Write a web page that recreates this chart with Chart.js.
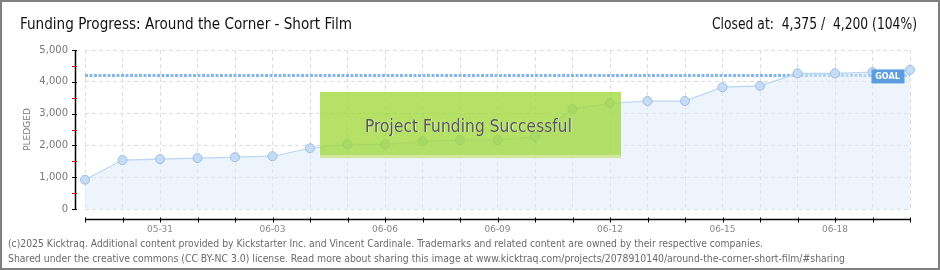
<!DOCTYPE html>
<html>
<head>
<meta charset="utf-8">
<script src="https://cdn.jsdelivr.net/npm/chart.js@4.4.1/dist/chart.umd.min.js"></script>
<style>
  html, body { margin: 0; padding: 0; background: #fff; }
  #wrap { width: 940px; height: 270px; position: relative; }
</style>
</head>
<body>
<div id="wrap"><canvas id="mainChart" width="940" height="270"></canvas></div>
<script>
// ─── data ───
const dates = [
    '05-29', '05-30', '05-31', '06-01', '06-02', '06-03', '06-04', '06-05',
    '06-06', '06-07', '06-08', '06-09', '06-10', '06-11', '06-12', '06-13',
    '06-14', '06-15', '06-16', '06-17', '06-18', '06-19', '06-20'
];
const pledged = [
    920, 1540, 1570, 1600, 1630, 1660, 1910, 2035,
    2035, 2130, 2170, 2170, 2275, 3145, 3325, 3395,
    3395, 3830, 3870, 4265, 4265, 4305, 4375
];
const goal = 4200;
const yTicks = [0, 1000, 2000, 3000, 4000, 5000];

const titleText = 'Funding Progress: Around the Corner - Short Film';
const closedText = 'Closed at:  4,375 /  4,200 (104%)';
const bannerText = 'Project Funding Successful';
const footerLines = [
    '(c)2025 Kicktraq. Additional content provided by Kickstarter Inc. and Vincent Cardinale. Trademarks and related content are owned by their respective companies.',
    'Shared under the creative commons (CC BY-NC 3.0) license. Read more about sharing this image at www.kicktraq.com/projects/2078910140/around-the-corner-short-film/#sharing'
];

const TEXT_FONT = "'DejaVu Sans Condensed', 'Liberation Sans Narrow', sans-serif";

// fit text into a target width (the original uses a narrower face)
function fitText(ctx, text, x, y, width) {
    const w = ctx.measureText(text).width;
    ctx.save();
    ctx.translate(x, y);
    ctx.scale(width / w, 1);
    ctx.fillText(text, 0, 0);
    ctx.restore();
}

// ─── custom drawing: frame, title, axes, goal, banner, footer ───
const decorPlugin = {
    id: 'decor',
    beforeDraw(chart) {
        const { ctx } = chart;
        ctx.save();
        ctx.fillStyle = '#fff';
        ctx.fillRect(0, 0, chart.width, chart.height);
        ctx.restore();
    },
    beforeDatasetsDraw(chart) {
        // goal line under the series
        const { ctx, chartArea } = chart;
        const y = chart.scales.y.getPixelForValue(goal);
        ctx.save();
        ctx.strokeStyle = '#86b5e8';
        ctx.lineWidth = 3;
        ctx.setLineDash([3, 1.5]);
        ctx.beginPath();
        ctx.moveTo(chartArea.left, y);
        ctx.lineTo(chartArea.right, y);
        ctx.stroke();
        ctx.restore();
    },
    afterDraw(chart) {
        const { ctx, chartArea } = chart;
        const xs = chart.scales.x, ys = chart.scales.y;
        ctx.save();

        // axis lines (drawn offset from the plot like the original)
        const axX = chartArea.left - 9.5;
        const axY = chartArea.bottom + 10.5;
        ctx.strokeStyle = '#000';
        ctx.lineWidth = 1.5;
        ctx.beginPath();
        ctx.moveTo(axX, ys.getPixelForValue(5000));
        ctx.lineTo(axX, ys.getPixelForValue(0));
        ctx.stroke();
        for (let v = 0; v <= 5000; v += 500) {
            const py = Math.round(ys.getPixelForValue(v)) + 0.5;
            ctx.strokeStyle = v % 1000 === 0 ? '#000' : '#e00000';
            ctx.lineWidth = 1;
            ctx.beginPath();
            ctx.moveTo(axX - 3.5, py);
            ctx.lineTo(axX + 1.5, py);
            ctx.stroke();
        }
        ctx.strokeStyle = '#000';
        ctx.lineWidth = 1.5;
        ctx.beginPath();
        ctx.moveTo(chartArea.left, axY);
        ctx.lineTo(chartArea.right, axY);
        ctx.stroke();
        ctx.lineWidth = 1;
        dates.forEach((d, i) => {
            const px = Math.round(xs.getPixelForValue(i)) + 0.5;
            ctx.beginPath();
            ctx.moveTo(px, axY - 2);
            ctx.lineTo(px, axY + 3);
            ctx.stroke();
        });

        // GOAL tag
        const gy = ys.getPixelForValue(goal);
        const gx = xs.getPixelForValue(dates.length - 2) - 1;
        ctx.fillStyle = '#5b9de0';
        ctx.fillRect(gx, gy - 6, 33, 14);
        ctx.fillStyle = '#fff';
        ctx.font = "bold 9px 'DejaVu Sans Condensed', sans-serif";
        ctx.textAlign = 'center';
        ctx.textBaseline = 'middle';
        ctx.fillText('GOAL', gx + 16, gy + 1);

        // banner
        const bx = 320, by = 92, bw = 301, bh = 66;
        ctx.fillStyle = 'rgba(160, 216, 60, 0.78)';
        ctx.fillRect(bx, by, bw, bh);
        ctx.fillStyle = 'rgba(210, 232, 160, 0.95)';
        ctx.fillRect(bx, by + bh - 3, bw, 3);
        ctx.font = "18px " + TEXT_FONT;
        ctx.textAlign = 'left';
        ctx.textBaseline = 'middle';
        ctx.fillStyle = 'rgba(255,255,255,0.8)';
        fitText(ctx, bannerText, 365.7, by + 35.7, 207);
        ctx.fillStyle = '#555';
        fitText(ctx, bannerText, 365, by + 35, 207);

        // titles
        ctx.textBaseline = 'alphabetic';
        ctx.fillStyle = '#111';
        ctx.font = "16px " + TEXT_FONT;
        ctx.textAlign = 'left';
        fitText(ctx, titleText, 20, 29, 332);
        fitText(ctx, closedText, 712, 29, 205);

        // footer
        ctx.fillStyle = '#6a6a6a';
        ctx.font = "10px " + TEXT_FONT;
        fitText(ctx, footerLines[0], 8, 247, 755);
        fitText(ctx, footerLines[1], 8, 262, 837);

        // frame
        ctx.strokeStyle = '#808080';
        ctx.lineWidth = 2;
        ctx.strokeRect(1, 1, chart.width - 2, chart.height - 2);
        ctx.restore();
    }
};

const ctx = document.getElementById('mainChart').getContext('2d');
new Chart(ctx, {
    type: 'line',
    data: {
        labels: dates,
        datasets: [{
            data: pledged,
            borderColor: '#b9d6f4',
            backgroundColor: 'rgba(222, 235, 250, 0.55)',
            borderWidth: 1.2,
            fill: 'origin',
            tension: 0,
            pointRadius: 4.5,
            pointBackgroundColor: '#c5dcf5',
            pointBorderColor: '#9fbde2',
            pointBorderWidth: 1,
        }]
    },
    options: {
        responsive: false,
        animation: false,
        layout: { padding: { left: 0, right: 30, top: 50, bottom: 0 } },
        plugins: { legend: { display: false }, tooltip: { enabled: false } },
        scales: {
            x: {
                offset: false,
                afterFit: (s) => { s.height = 61; },
                border: { display: false, dash: [4, 3] },
                grid: { color: '#dddddd', drawTicks: false },
                ticks: {
                    autoSkip: false,
                    maxRotation: 0,
                    padding: 15,
                    color: '#888',
                    font: { family: "'DejaVu Sans'", size: 9 },
                    callback: (v, i) => (i % 3 === 2 ? dates[i] : ''),
                },
            },
            y: {
                min: 0,
                max: 5000,
                afterFit: (s) => { s.width = 85; },
                afterBuildTicks: (s) => { s.ticks = yTicks.map(v => ({ value: v })); },
                border: { display: false, dash: [4, 3] },
                grid: { color: '#dddddd', drawTicks: false },
                ticks: {
                    padding: 17,
                    color: '#777',
                    font: { family: "'DejaVu Sans'", size: 10 },
                    callback: (v) => v.toLocaleString('en-US'),
                },
                title: {
                    display: true,
                    text: 'PLEDGED',
                    color: '#777',
                    font: { family: "'DejaVu Sans'", size: 9 },
                    padding: { top: 22, bottom: 0 },
                },
            },
        },
    },
    plugins: [decorPlugin],
});
</script>
</body>
</html>
